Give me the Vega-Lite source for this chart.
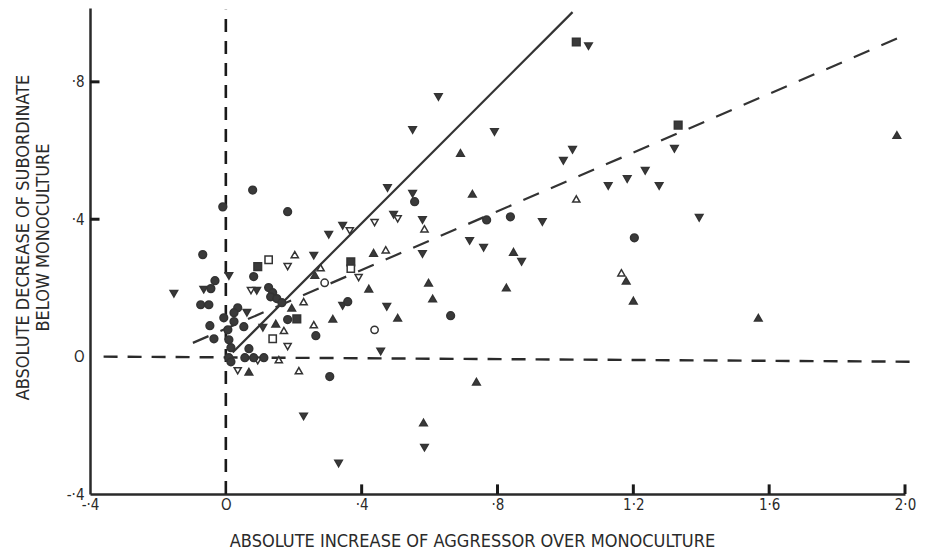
{
  "$schema": "https://vega.github.io/schema/vega-lite/v6.json",
  "width": 815,
  "height": 486,
  "autosize": "none",
  "padding": {"left": 90, "top": 8, "right": 40, "bottom": 64},
  "background": "white",
  "config": {
    "view": {"stroke": null},
    "font": "DejaVu Sans Condensed",
    "axis": {"grid": false, "domainColor": "#2a2a2a", "domainWidth": 2.5, "ticks": false, "tickSize": 0, "labelColor": "#2a2a2a", "titleColor": "#2a2a2a", "labelFont": "DejaVu Sans Condensed", "titleFont": "DejaVu Sans Condensed", "labelFontSize": 15, "titleFontSize": 18, "titleFontWeight": "normal"}
  },
  "datasets": {
    "pts": [
      {"x": 1.032, "y": 0.916, "t": "fs"},
      {"x": 1.332, "y": 0.674, "t": "fs"},
      {"x": 0.094, "y": 0.262, "t": "fs"},
      {"x": 0.368, "y": 0.276, "t": "fs"},
      {"x": 0.209, "y": 0.110, "t": "fs"},
      {"x": 0.126, "y": 0.282, "t": "os"},
      {"x": 0.368, "y": 0.256, "t": "os"},
      {"x": 0.138, "y": 0.052, "t": "os"},
      {"x": 0.438, "y": 0.078, "t": "oc"},
      {"x": 0.291, "y": 0.215, "t": "oc"},
      {"x": 1.068, "y": 0.904, "t": "ftd"},
      {"x": 0.626, "y": 0.756, "t": "ftd"},
      {"x": 0.550, "y": 0.660, "t": "ftd"},
      {"x": 0.791, "y": 0.654, "t": "ftd"},
      {"x": 1.021, "y": 0.602, "t": "ftd"},
      {"x": 0.994, "y": 0.570, "t": "ftd"},
      {"x": 1.321, "y": 0.605, "t": "ftd"},
      {"x": 1.126, "y": 0.497, "t": "ftd"},
      {"x": 1.182, "y": 0.517, "t": "ftd"},
      {"x": 1.235, "y": 0.541, "t": "ftd"},
      {"x": 1.276, "y": 0.497, "t": "ftd"},
      {"x": 1.394, "y": 0.404, "t": "ftd"},
      {"x": 0.476, "y": 0.491, "t": "ftd"},
      {"x": 0.550, "y": 0.474, "t": "ftd"},
      {"x": 0.494, "y": 0.413, "t": "ftd"},
      {"x": 0.579, "y": 0.398, "t": "ftd"},
      {"x": 0.579, "y": 0.299, "t": "ftd"},
      {"x": 0.474, "y": 0.145, "t": "ftd"},
      {"x": 0.718, "y": 0.337, "t": "ftd"},
      {"x": 0.759, "y": 0.317, "t": "ftd"},
      {"x": 0.871, "y": 0.276, "t": "ftd"},
      {"x": 0.932, "y": 0.392, "t": "ftd"},
      {"x": 0.344, "y": 0.381, "t": "ftd"},
      {"x": 0.303, "y": 0.355, "t": "ftd"},
      {"x": 0.259, "y": 0.294, "t": "ftd"},
      {"x": -0.153, "y": 0.183, "t": "ftd"},
      {"x": 0.009, "y": 0.235, "t": "ftd"},
      {"x": -0.065, "y": 0.195, "t": "ftd"},
      {"x": 0.091, "y": 0.192, "t": "ftd"},
      {"x": 0.062, "y": 0.128, "t": "ftd"},
      {"x": 0.109, "y": 0.084, "t": "ftd"},
      {"x": 0.344, "y": 0.148, "t": "ftd"},
      {"x": 0.456, "y": 0.015, "t": "ftd"},
      {"x": 0.229, "y": -0.174, "t": "ftd"},
      {"x": 0.332, "y": -0.311, "t": "ftd"},
      {"x": 0.585, "y": -0.265, "t": "ftd"},
      {"x": 0.506, "y": 0.401, "t": "otd"},
      {"x": 0.438, "y": 0.390, "t": "otd"},
      {"x": 0.365, "y": 0.366, "t": "otd"},
      {"x": 0.391, "y": 0.230, "t": "otd"},
      {"x": 0.182, "y": 0.262, "t": "otd"},
      {"x": 0.074, "y": 0.192, "t": "otd"},
      {"x": 0.182, "y": 0.029, "t": "otd"},
      {"x": 0.094, "y": -0.012, "t": "otd"},
      {"x": 0.035, "y": -0.041, "t": "otd"},
      {"x": 0.691, "y": 0.593, "t": "ftu"},
      {"x": 0.726, "y": 0.474, "t": "ftu"},
      {"x": 0.847, "y": 0.305, "t": "ftu"},
      {"x": 0.826, "y": 0.201, "t": "ftu"},
      {"x": 0.597, "y": 0.215, "t": "ftu"},
      {"x": 0.609, "y": 0.169, "t": "ftu"},
      {"x": 0.506, "y": 0.113, "t": "ftu"},
      {"x": 0.435, "y": 0.302, "t": "ftu"},
      {"x": 0.421, "y": 0.198, "t": "ftu"},
      {"x": 0.315, "y": 0.110, "t": "ftu"},
      {"x": 0.262, "y": 0.238, "t": "ftu"},
      {"x": 0.194, "y": 0.142, "t": "ftu"},
      {"x": 0.147, "y": 0.096, "t": "ftu"},
      {"x": 0.068, "y": -0.044, "t": "ftu"},
      {"x": 0.738, "y": -0.073, "t": "ftu"},
      {"x": 0.582, "y": -0.192, "t": "ftu"},
      {"x": 1.179, "y": 0.221, "t": "ftu"},
      {"x": 1.200, "y": 0.163, "t": "ftu"},
      {"x": 1.568, "y": 0.113, "t": "ftu"},
      {"x": 1.976, "y": 0.645, "t": "ftu"},
      {"x": 1.032, "y": 0.459, "t": "otu"},
      {"x": 0.585, "y": 0.372, "t": "otu"},
      {"x": 0.471, "y": 0.311, "t": "otu"},
      {"x": 0.203, "y": 0.297, "t": "otu"},
      {"x": 0.279, "y": 0.259, "t": "otu"},
      {"x": 0.229, "y": 0.160, "t": "otu"},
      {"x": 0.259, "y": 0.093, "t": "otu"},
      {"x": 0.171, "y": 0.076, "t": "otu"},
      {"x": 0.156, "y": -0.009, "t": "otu"},
      {"x": 0.215, "y": -0.041, "t": "otu"},
      {"x": 1.165, "y": 0.244, "t": "otu"},
      {"x": 0.079, "y": 0.485, "t": "fc"},
      {"x": -0.009, "y": 0.436, "t": "fc"},
      {"x": 0.182, "y": 0.422, "t": "fc"},
      {"x": -0.068, "y": 0.297, "t": "fc"},
      {"x": 0.556, "y": 0.451, "t": "fc"},
      {"x": 0.768, "y": 0.398, "t": "fc"},
      {"x": 0.838, "y": 0.407, "t": "fc"},
      {"x": 0.662, "y": 0.119, "t": "fc"},
      {"x": 1.203, "y": 0.346, "t": "fc"},
      {"x": 0.359, "y": 0.160, "t": "fc"},
      {"x": 0.265, "y": 0.061, "t": "fc"},
      {"x": 0.182, "y": 0.108, "t": "fc"},
      {"x": 0.306, "y": -0.058, "t": "fc"},
      {"x": -0.032, "y": 0.221, "t": "fc"},
      {"x": -0.044, "y": 0.198, "t": "fc"},
      {"x": 0.082, "y": 0.233, "t": "fc"},
      {"x": 0.126, "y": 0.201, "t": "fc"},
      {"x": 0.138, "y": 0.186, "t": "fc"},
      {"x": 0.132, "y": 0.174, "t": "fc"},
      {"x": 0.150, "y": 0.169, "t": "fc"},
      {"x": 0.165, "y": 0.157, "t": "fc"},
      {"x": -0.074, "y": 0.151, "t": "fc"},
      {"x": -0.050, "y": 0.151, "t": "fc"},
      {"x": 0.035, "y": 0.142, "t": "fc"},
      {"x": 0.024, "y": 0.128, "t": "fc"},
      {"x": -0.006, "y": 0.113, "t": "fc"},
      {"x": 0.024, "y": 0.102, "t": "fc"},
      {"x": 0.053, "y": 0.087, "t": "fc"},
      {"x": -0.047, "y": 0.090, "t": "fc"},
      {"x": -0.035, "y": 0.052, "t": "fc"},
      {"x": 0.006, "y": 0.078, "t": "fc"},
      {"x": 0.009, "y": 0.049, "t": "fc"},
      {"x": 0.015, "y": 0.026, "t": "fc"},
      {"x": 0.009, "y": -0.003, "t": "fc"},
      {"x": 0.015, "y": -0.015, "t": "fc"},
      {"x": 0.068, "y": 0.023, "t": "fc"},
      {"x": 0.056, "y": -0.003, "t": "fc"},
      {"x": 0.082, "y": -0.003, "t": "fc"},
      {"x": 0.112, "y": -0.003, "t": "fc"}
    ],
    "lines": [
      {"line": "solid", "x": 0.02, "y": 0.012},
      {"line": "solid", "x": 1.021, "y": 1.003},
      {"line": "regr", "x": -0.097, "y": 0.04},
      {"line": "regr", "x": 2.0, "y": 0.936},
      {"line": "zero", "x": -0.36, "y": 0.0},
      {"line": "zero", "x": 2.04, "y": -0.015},
      {"line": "vert", "x": 0.0, "y": -0.4},
      {"line": "vert", "x": 0.0, "y": 1.01}
    ],
    "xticks": [
      {"v": 0.4, "lo": -0.4, "hi": -0.372},
      {"v": 0.8, "lo": -0.4, "hi": -0.372},
      {"v": 1.2, "lo": -0.4, "hi": -0.372},
      {"v": 1.6, "lo": -0.4, "hi": -0.372},
      {"v": 2.0, "lo": -0.4, "hi": -0.372}
    ],
    "yticks": [
      {"v": 0.4, "lo": -0.4, "hi": -0.372},
      {"v": 0.8, "lo": -0.4, "hi": -0.372}
    ]
  },
  "layer": [
    {
      "data": {"name": "lines"},
      "transform": [{"filter": "datum.line == 'zero'"}],
      "mark": {"type": "line", "color": "#2a2a2a", "strokeWidth": 2.4, "strokeDash": [14, 10], "clip": false},
      "encoding": {
        "x": {"field": "x", "type": "quantitative", "scale": {"domain": [-0.4, 2.0], "nice": false, "zero": false},
          "axis": {"values": [-0.4, 0, 0.4, 0.8, 1.2, 1.6, 2.0], "labelExpr": "datum.value == 0 ? 'O' : replace(replace(replace(format(datum.value, '.1f'), '0.', '·'), '.', '·'), '−', '-')", "labelPadding": 3, "title": "ABSOLUTE INCREASE OF AGGRESSOR OVER MONOCULTURE", "titleX": 382, "titleY": 38, "titleAnchor": null, "titleAlign": "center", "titleBaseline": "top", "labelFlush": false}},
        "y": {"field": "y", "type": "quantitative", "scale": {"domain": [-0.4, 1.015], "nice": false, "zero": false},
          "axis": {"values": [-0.4, 0, 0.4, 0.8], "labelExpr": "datum.value == 0 ? 'O' : replace(replace(replace(format(datum.value, '.1f'), '0.', '·'), '.', '·'), '−', '-')", "labelPadding": 6, "title": ["ABSOLUTE DECREASE OF SUBORDINATE", "BELOW MONOCULTURE"], "titleX": -58, "titleY": 229, "titleAngle": -90, "titleAlign": "center", "titleBaseline": "bottom", "titleLineHeight": 20, "labelFlush": false}},
        "detail": {"field": "line"}
      }
    },
    {
      "data": {"name": "xticks"},
      "mark": {"type": "rule", "color": "#1a1a1a", "strokeWidth": 3, "clip": false},
      "encoding": {"x": {"field": "v", "type": "quantitative"}, "y": {"field": "lo", "type": "quantitative"}, "y2": {"field": "hi"}}
    },
    {
      "data": {"name": "yticks"},
      "mark": {"type": "rule", "color": "#1a1a1a", "strokeWidth": 3, "clip": false},
      "encoding": {"y": {"field": "v", "type": "quantitative"}, "x": {"field": "lo", "type": "quantitative"}, "x2": {"field": "hi"}}
    },
    {
      "data": {"name": "lines"},
      "transform": [{"filter": "datum.line == 'vert'"}],
      "mark": {"type": "line", "color": "#1a1a1a", "strokeWidth": 2.6, "strokeDash": [13, 9], "clip": false},
      "encoding": {"x": {"field": "x", "type": "quantitative"}, "y": {"field": "y", "type": "quantitative"}}
    },
    {
      "data": {"name": "lines"},
      "transform": [{"filter": "datum.line == 'regr'"}],
      "mark": {"type": "line", "color": "#333333", "strokeWidth": 2.2, "strokeDash": [17, 13], "clip": false},
      "encoding": {"x": {"field": "x", "type": "quantitative"}, "y": {"field": "y", "type": "quantitative"}}
    },
    {
      "data": {"name": "lines"},
      "transform": [{"filter": "datum.line == 'solid'"}],
      "mark": {"type": "line", "color": "#333333", "strokeWidth": 2.2, "clip": false},
      "encoding": {"x": {"field": "x", "type": "quantitative"}, "y": {"field": "y", "type": "quantitative"}}
    },
    {
      "data": {"name": "pts"},
      "mark": {"type": "point", "filled": true, "stroke": "#333333", "strokeWidth": 1.5, "opacity": 1},
      "encoding": {
        "x": {"field": "x", "type": "quantitative"},
        "y": {"field": "y", "type": "quantitative"},
        "shape": {"field": "t", "type": "nominal", "legend": null,
          "scale": {"domain": ["fc", "fs", "ftu", "ftd", "oc", "os", "otu", "otd"], "range": ["circle", "square", "triangle-up", "triangle-down", "circle", "square", "triangle-up", "triangle-down"]}},
        "fill": {"field": "t", "type": "nominal", "legend": null,
          "scale": {"domain": ["fc", "fs", "ftu", "ftd", "oc", "os", "otu", "otd"], "range": ["#3a3a3a", "#3a3a3a", "#3a3a3a", "#3a3a3a", "white", "white", "white", "white"]}},
        "size": {"field": "t", "type": "nominal", "legend": null,
          "scale": {"domain": ["fc", "fs", "ftu", "ftd", "oc", "os", "otu", "otd"], "range": [60, 50, 65, 65, 35, 40, 42, 42]}}
      }
    }
  ]
}
